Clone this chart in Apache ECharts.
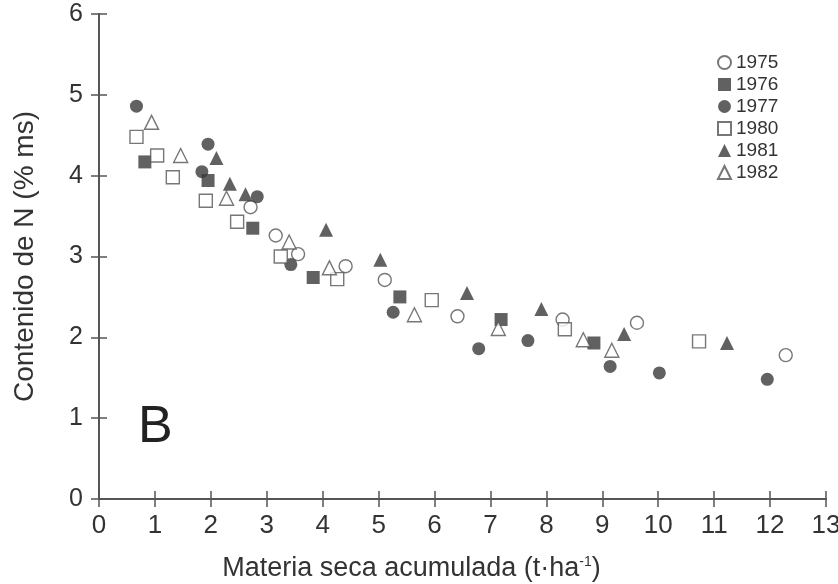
<!DOCTYPE html>
<html>
<head>
<meta charset="utf-8">
<title>Contenido de N</title>
<script src="https://cdn.jsdelivr.net/npm/echarts@6/dist/echarts.min.js"></script>
<style>
    html, body { margin: 0; padding: 0; background: #fff; }
    #chart { width: 838px; height: 584px; }
</style>
</head>
<body>
<div id="chart"></div>
<script>
// dry matter (t/ha) and N content (% ms) per year
const x1975 = [2.71, 3.16, 3.56, 4.41, 5.11, 6.41, 8.29, 9.62, 12.28]
const y1975 = [3.61, 3.26, 3.03, 2.88, 2.71, 2.26, 2.22, 2.18, 1.78]

const x1976 = [0.82, 1.95, 2.75, 3.83, 5.38, 7.19, 8.85]
const y1976 = [4.17, 3.94, 3.35, 2.74, 2.50, 2.22, 1.93]

const x1977 = [0.67, 1.95, 1.84, 2.83, 3.43, 5.26, 6.79, 7.67, 9.14, 10.02, 11.95]
const y1977 = [4.86, 4.39, 4.05, 3.74, 2.90, 2.31, 1.86, 1.96, 1.64, 1.56, 1.48]

const x1980 = [0.67, 1.04, 1.32, 1.91, 2.47, 3.25, 4.26, 5.95, 8.33, 10.73]
const y1980 = [4.48, 4.25, 3.98, 3.69, 3.43, 3.00, 2.72, 2.46, 2.10, 1.95]

const x1981 = [2.10, 2.34, 2.62, 4.06, 5.03, 6.58, 7.91, 9.39, 11.23]
const y1981 = [4.22, 3.90, 3.77, 3.33, 2.96, 2.55, 2.35, 2.04, 1.93]

const x1982 = [0.94, 1.46, 2.28, 3.40, 4.12, 5.64, 7.14, 8.66, 9.17]
const y1982 = [4.66, 4.25, 3.72, 3.18, 2.86, 2.28, 2.11, 1.97, 1.84]

const xTicks = [0, 1, 2, 3, 4, 5, 6, 7, 8, 9, 10, 11, 12, 13]
const yTicks = [0, 1, 2, 3, 4, 5, 6]

const dark = '#3a3a3a'
const axisGray = '#555'
const textColor = '#333'
const sans = "'Liberation Sans', Arial, sans-serif"

function pairs(xs, ys) {
    return xs.map((v, i) => [v, ys[i]])
}

function makeSeries(name, xs, ys, symbol, filled) {
    return {
        name: name,
        type: 'scatter',
        symbol: symbol,
        symbolSize: symbol === 'triangle' ? 14 : 13,
        data: pairs(xs, ys),
        itemStyle: filled
            ? { color: dark }
            : { color: '#fff', borderColor: axisGray, borderWidth: 1.4 },
        emphasis: { disabled: true },
        animation: false
    }
}

const boxAxis = {
    axisLine: { show: true, lineStyle: { color: axisGray, width: 1.8 } },
    axisTick: { show: true, inside: true, length: 8, lineStyle: { color: axisGray, width: 1.5 } },
    splitLine: { show: false }
}

const chart = echarts.init(document.getElementById('chart'))

chart.setOption({
    backgroundColor: '#fff',
    grid: { left: 99, top: 14, right: 12, bottom: 85, containLabel: false, outerBoundsMode: 'none' },
    legend: {
        orient: 'vertical',
        left: 712,
        top: 48,
        itemWidth: 13,
        itemHeight: 13,
        itemGap: 3,
        textStyle: { fontFamily: sans, fontSize: 19, color: textColor },
        data: ['1975', '1976', '1977', '1980', '1981', '1982']
    },
    xAxis: [
        Object.assign({
            type: 'value',
            min: xTicks[0],
            max: xTicks[xTicks.length - 1],
            interval: 1,
            position: 'bottom',
            name: 'Materia seca acumulada (t·ha{sup|-1})',
            nameLocation: 'middle',
            nameGap: 56,
            nameTextStyle: {
                fontFamily: sans,
                fontSize: 27,
                color: textColor,
                padding: [0, 102, 0, 0],
                rich: {
                    sup: { fontSize: 14, verticalAlign: 'top', fontFamily: sans, color: textColor }
                }
            },
            axisLabel: { margin: 14, fontFamily: sans, fontSize: 26, color: textColor }
        }, boxAxis),
        Object.assign({
            type: 'value',
            min: xTicks[0],
            max: xTicks[xTicks.length - 1],
            interval: 1,
            position: 'top',
            axisLabel: { show: false }
        }, boxAxis)
    ],
    yAxis: [
        Object.assign({
            type: 'value',
            min: yTicks[0],
            max: yTicks[yTicks.length - 1],
            interval: 1,
            position: 'left',
            name: 'Contenido de N (% ms)',
            nameLocation: 'middle',
            nameGap: 60,
            nameTextStyle: { fontFamily: sans, fontSize: 28, color: textColor },
            axisLabel: { margin: 16, fontFamily: sans, fontSize: 25, color: textColor }
        }, boxAxis),
        Object.assign({
            type: 'value',
            min: yTicks[0],
            max: yTicks[yTicks.length - 1],
            interval: 1,
            position: 'right',
            axisLabel: { show: false }
        }, boxAxis)
    ],
    graphic: [{
        type: 'text',
        left: 138,
        top: 402,
        style: { text: 'B', font: "52px 'Liberation Sans', Arial, sans-serif", fill: '#222' }
    }],
    series: [
        makeSeries('1975', x1975, y1975, 'circle', false),
        makeSeries('1976', x1976, y1976, 'rect', true),
        makeSeries('1977', x1977, y1977, 'circle', true),
        makeSeries('1980', x1980, y1980, 'rect', false),
        makeSeries('1981', x1981, y1981, 'triangle', true),
        makeSeries('1982', x1982, y1982, 'triangle', false)
    ]
})
</script>
</body>
</html>
